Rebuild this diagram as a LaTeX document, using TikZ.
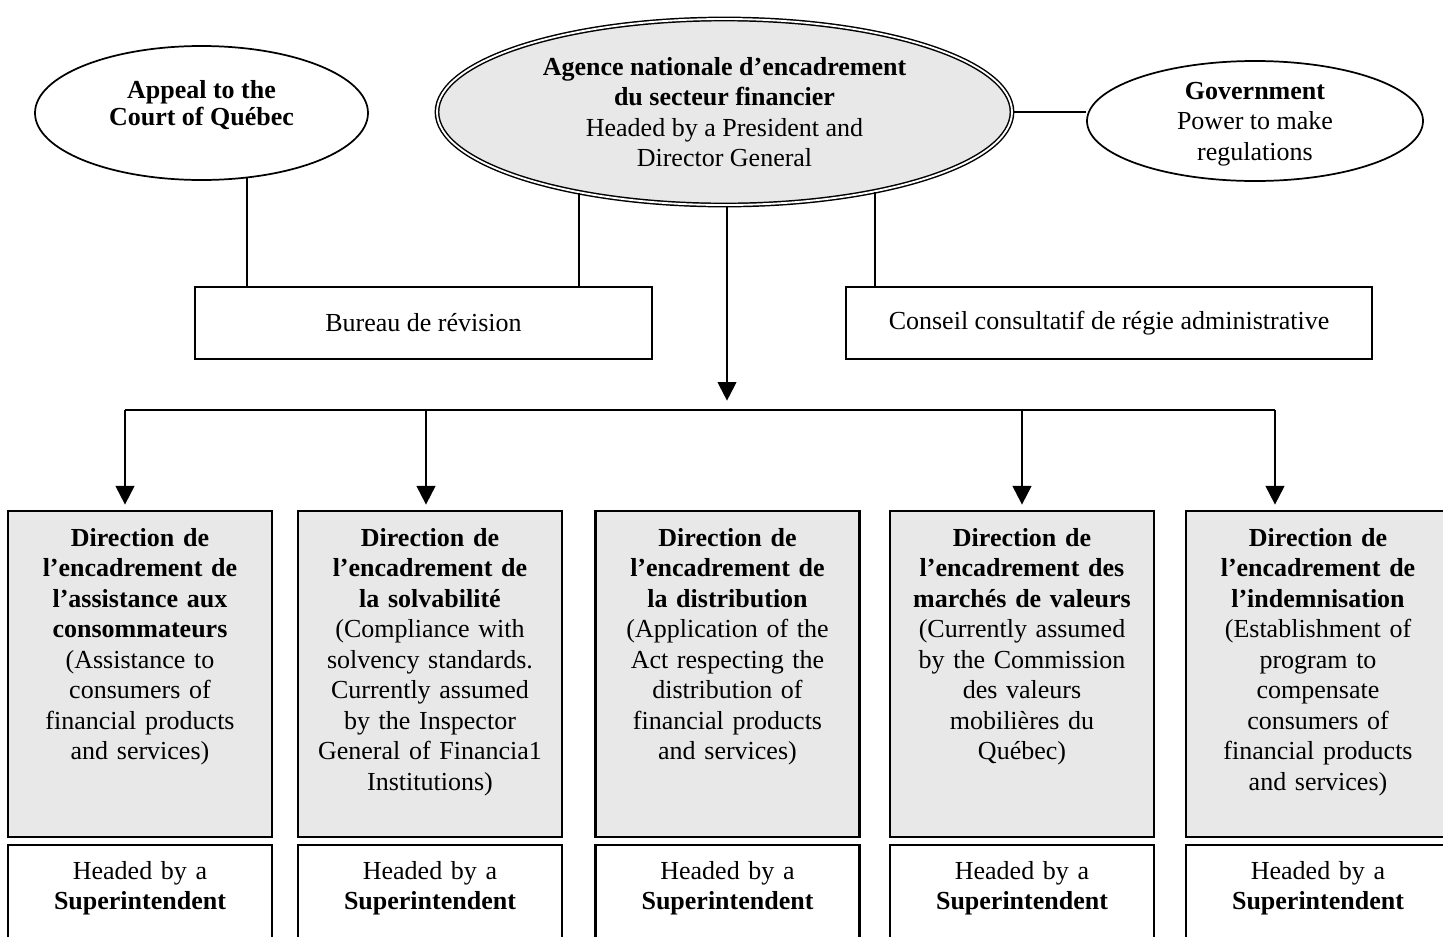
\documentclass[tikz,border=0pt]{standalone}
\usepackage{fontspec}
\setmainfont{Liberation Serif}
\usetikzlibrary{arrows.meta,%
                positioning,%
                shapes.geometric}
\definecolor{dirgray}{RGB}{232,232,232}

\begin{document}
\begin{tikzpicture}[x=0.75pt,y=-0.75pt,
  every node/.style={font=\fontsize{19.5}{22.9}\selectfont},
  oval/.style={draw,ellipse,line width=1.3pt,inner sep=0pt,align=center},
  agency/.style={oval,fill=dirgray,double,line width=1.1pt,double distance=1.4pt},
  office/.style={draw,rectangle,line width=1.6pt,inner sep=0pt},
  dirbox/.style={office,fill=dirgray,minimum width=198pt,minimum height=244.5pt},
  headbox/.style={office,minimum width=198pt,minimum height=86.25pt},
  dirtext/.style={inner sep=0pt,text width=190pt,align=center},
  link/.style={line width=1.6pt},
  arr/.style={link,-{Triangle[length=14pt,width=14pt]}}]

\useasboundingbox (0,0) rectangle (1443,936);
\clip (0,0) rectangle (1443,936);

\node[oval,minimum width=249.75pt,minimum height=100.5pt] (appeal) at (201.5,113) {};
\node[align=center,inner sep=0pt] (appealt) at (201.5,105)
  {\textbf{Appeal to the}\\[-2.5pt]\textbf{Court of Québec}};
\node[agency,minimum width=431.25pt,minimum height=139.5pt] (agence) at (724.5,112)
  {\textbf{Agence nationale d’encadrement}\\\textbf{du secteur financier}\\Headed by a President and\\Director General};
\node[oval,minimum width=252pt,minimum height=90pt] (gov) at (1255,121) {};
\node[align=center,inner sep=0pt] (govt) at (1255,124)
  {\textbf{Government}\\Power to make\\regulations};

\node[office,minimum width=342.75pt,minimum height=54pt] (bureau) at (423.5,323) {Bureau de révision};
\node[office,minimum width=394.5pt,minimum height=54pt] (conseil) at (1109,323) {Conseil consultatif de régie administrative};

\draw[link] (appeal.-55) -- (appeal.-55 |- bureau.north);
\draw[link] (agence.-151.4) -- (agence.-151.4 |- bureau.north);
\draw[link] (agence.-28.6) -- (agence.-28.6 |- conseil.north);
\draw[link] (agence.east) -- (agence.east -| gov.west);

\node[dirbox] (d1) at (140,674) {};
\node[dirbox] (d2) at (430,674) {};
\node[dirbox] (d3) at (727.5,674) {};
\node[dirbox] (d4) at (1022,674) {};
\node[dirbox] (d5) at (1318,674) {};

\node[dirtext,below=13.5pt of d1.north] (d1t)
  {\textbf{Direction de}\\\textbf{l’encadrement de}\\\textbf{l’assistance aux}\\\textbf{consommateurs}\\(Assistance to\\consumers of\\financial products\\and services)};
\node[dirtext,below=13.5pt of d2.north] (d2t)
  {\textbf{Direction de}\\\textbf{l’encadrement de}\\\textbf{la solvabilité}\\(Compliance with\\solvency standards.\\Currently assumed\\by the Inspector\\General of Financia1\\Institutions)};
\node[dirtext,below=13.5pt of d3.north] (d3t)
  {\textbf{Direction de}\\\textbf{l’encadrement de}\\\textbf{la distribution}\\(Application of the\\Act respecting the\\distribution of\\financial products\\and services)};
\node[dirtext,below=13.5pt of d4.north] (d4t)
  {\textbf{Direction de}\\\textbf{l’encadrement des}\\\textbf{marchés de valeurs}\\(Currently assumed\\by the Commission\\des valeurs\\mobilières du\\Québec)};
\node[dirtext,below=13.5pt of d5.north] (d5t)
  {\textbf{Direction de}\\\textbf{l’encadrement de}\\\textbf{l’indemnisation}\\(Establishment of\\program to\\compensate\\consumers of\\financial products\\and services)};

\node[headbox] (h1) at (140,902.5) {};
\node[headbox] (h2) at (430,902.5) {};
\node[headbox] (h3) at (727.5,902.5) {};
\node[headbox] (h4) at (1022,902.5) {};
\node[headbox] (h5) at (1318,902.5) {};

\node[dirtext,below=12.75pt of h1.north] (h1t) {Headed by a\\\textbf{Superintendent}};
\node[dirtext,below=12.75pt of h2.north] (h2t) {Headed by a\\\textbf{Superintendent}};
\node[dirtext,below=12.75pt of h3.north] (h3t) {Headed by a\\\textbf{Superintendent}};
\node[dirtext,below=12.75pt of h4.north] (h4t) {Headed by a\\\textbf{Superintendent}};
\node[dirtext,below=12.75pt of h5.north] (h5t) {Headed by a\\\textbf{Superintendent}};

\coordinate (hub) at (727,410);
\coordinate (busL) at (125,410);
\coordinate (bus2) at (426,410);
\coordinate (busR) at (1275,410);

\draw[arr,shorten >=7pt] (hub |- agence.south) -- (hub);
\draw[link] (busL) -- (busR);
\draw[arr,shorten >=4pt] (busL) -- (busL |- d1.north);
\draw[arr,shorten >=4pt] (bus2) -- (bus2 |- d2.north);
\draw[arr,shorten >=4pt] (d4.north |- hub) -- (d4.north);
\draw[arr,shorten >=4pt] (busR) -- (busR |- d5.north);

\end{tikzpicture}
\end{document}
